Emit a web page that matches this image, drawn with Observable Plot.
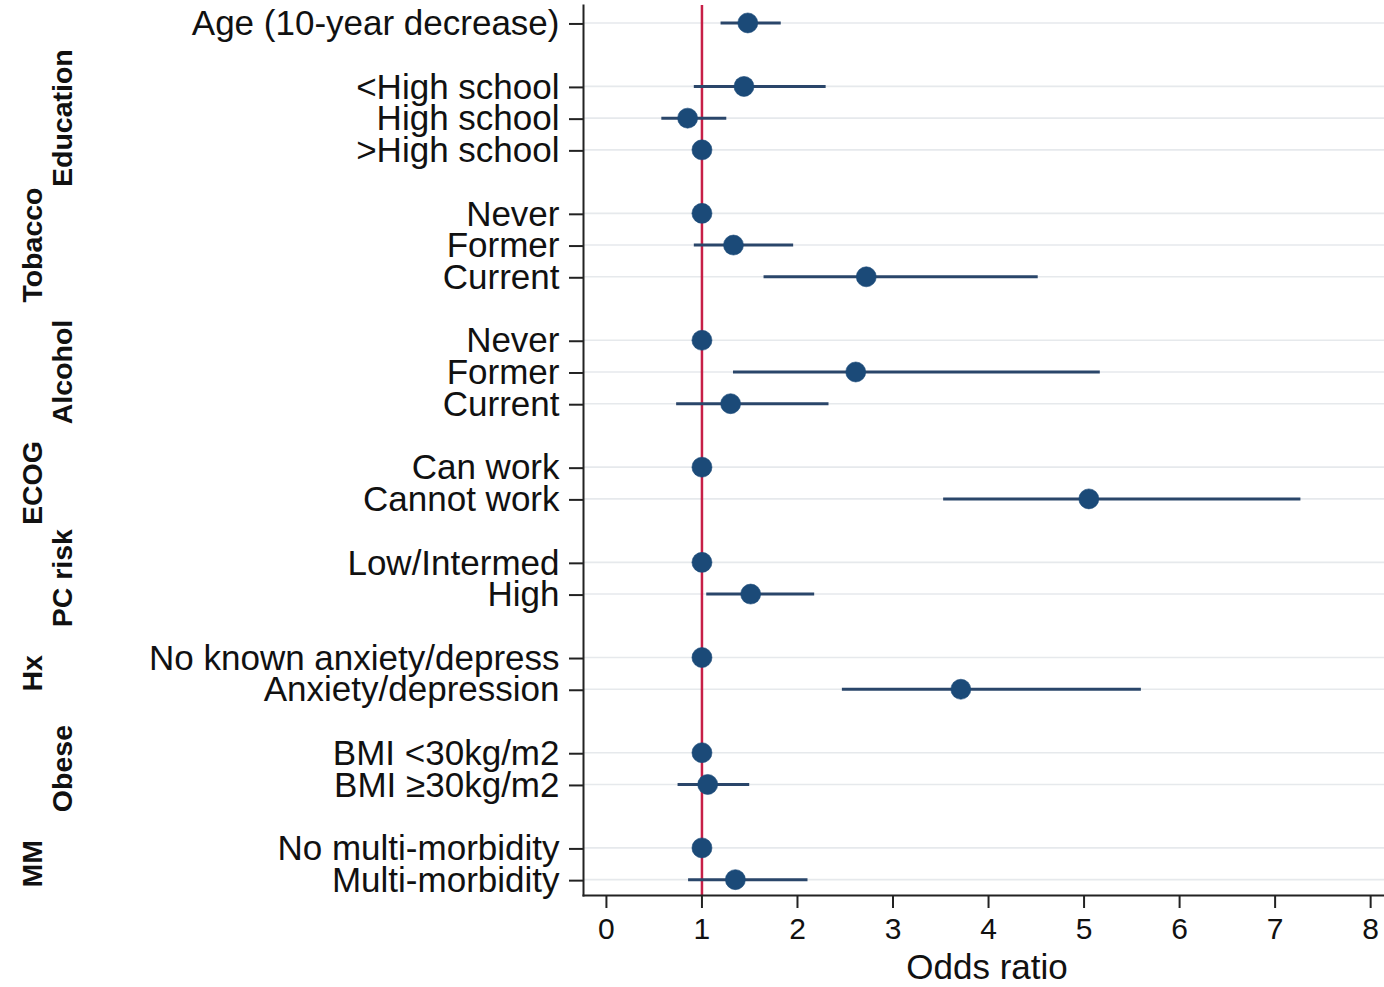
<!DOCTYPE html>
<html>
<head>
<meta charset="utf-8">
<script src="https://cdn.jsdelivr.net/npm/d3@7"></script>
<script src="https://cdn.jsdelivr.net/npm/@observablehq/plot@0.6"></script>
<style>
  html, body { margin: 0; padding: 0; background: #fff; }
  #chart svg { display: block; }
</style>
</head>
<body>
<div id="chart"></div>
<script>
// ---- data ----
const groupOf = ["", "Education", "Education", "Education", "Tobacco", "Tobacco", "Tobacco",
  "Alcohol", "Alcohol", "Alcohol", "ECOG", "ECOG", "PC risk", "PC risk", "Hx", "Hx",
  "Obese", "Obese", "MM", "MM"];
const labels = ["Age (10-year decrease)", "<High school", "High school", ">High school",
  "Never", "Former", "Current", "Never", "Former", "Current", "Can work", "Cannot work",
  "Low/Intermed", "High", "No known anxiety/depress", "Anxiety/depression",
  "BMI <30kg/m2", "BMI \u226530kg/m2", "No multi-morbidity", "Multi-morbidity"];
const oddsRatio = [1.48, 1.44, 0.85, 1, 1, 1.33, 2.72, 1, 2.61, 1.30, 1, 5.05, 1, 1.51, 1, 3.71, 1, 1.06, 1, 1.35];
const ciLow  = [1.20, 0.92, 0.58, null, null, 0.92, 1.65, null, 1.33, 0.735, null, 3.53, null, 1.05, null, 2.47, null, 0.75, null, 0.86];
const ciHigh = [1.83, 2.30, 1.26, null, null, 1.96, 4.52, null, 5.17, 2.33, null, 7.27, null, 2.18, null, 5.60, null, 1.50, null, 2.11];
const groupNames = ["Education", "Tobacco", "Alcohol", "ECOG", "PC risk", "Hx", "Obese", "MM"];
const xTicks = [0, 1, 2, 3, 4, 5, 6, 7, 8];
const xTitle = "Odds ratio";
const refValue = 1;

// ---- build table: row order with one blank row between groups ----
let idx = -1;
const rows = labels.map((label, i) => {
  idx += (i > 0 && groupOf[i] !== groupOf[i - 1]) ? 2 : 1;
  return {row: idx, label, group: groupOf[i], or: oddsRatio[i], lo: ciLow[i], hi: ciHigh[i]};
});
const maxRow = idx;
const groups = groupNames.map((name, gi) => {
  const members = rows.filter(d => d.group === name);
  return {name, level: gi % 2, center: d3.mean(members, d => d.row)};
});
const labelByRow = new Map(rows.map(d => [d.row, d.label]));

const font = "'Liberation Sans', Arial, Helvetica, sans-serif";
const navy = "#1b4a78";
const barColor = "#2a466a";

const groupText = (level, dx) => Plot.text(groups.filter(g => g.level === level), {
  y: "center", text: "name", frameAnchor: "left", rotate: -90, textAnchor: "middle",
  dx, fontWeight: "bold", fontSize: 28.5, fill: "#111"
});

const chart = Plot.plot({
  width: 1384,
  height: 987,
  marginTop: 5,
  marginBottom: 92,
  marginLeft: 583,
  marginRight: 0,
  style: {fontFamily: font, color: "#111", background: "#fff"},
  x: {domain: [-0.24, 8.145]},
  y: {domain: [-0.55, maxRow + 0.5], reverse: true},
  marks: [
    Plot.ruleY(rows, {y: "row", stroke: "#e6e9ec", strokeWidth: 1.6}),
    Plot.ruleX([refValue], {stroke: "#c71f47", strokeWidth: 2.5}),
    Plot.ruleY(rows.filter(d => d.lo != null), {y: "row", x1: "lo", x2: "hi", stroke: barColor, strokeWidth: 3}),
    Plot.dot(rows, {x: "or", y: "row", r: 10, fill: navy, stroke: navy, strokeWidth: 0.6}),
    Plot.frame({anchor: "left", stroke: "#222", strokeWidth: 2}),
    Plot.frame({anchor: "bottom", stroke: "#222", strokeWidth: 2}),
    Plot.axisY({
      ticks: rows.map(d => d.row),
      tickFormat: r => labelByRow.get(r),
      tickSize: 14,
      tickPadding: 10,
      fontSize: 35,
      dy: 1,
      stroke: "#222",
      strokeWidth: 2,
      label: null
    }),
    Plot.axisX({
      ticks: xTicks,
      tickFormat: d => String(d),
      tickSize: 13,
      tickPadding: 9,
      fontSize: 30,
      stroke: "#222",
      strokeWidth: 2,
      label: null
    }),
    Plot.text([xTitle], {
      text: d => d,
      frameAnchor: "bottom",
      dy: 83,
      dx: 3,
      fontSize: 35,
      fill: "#111"
    }),
    groupText(0, -521),
    groupText(1, -551)
  ]
});
document.getElementById("chart").appendChild(chart);
</script>
</body>
</html>
